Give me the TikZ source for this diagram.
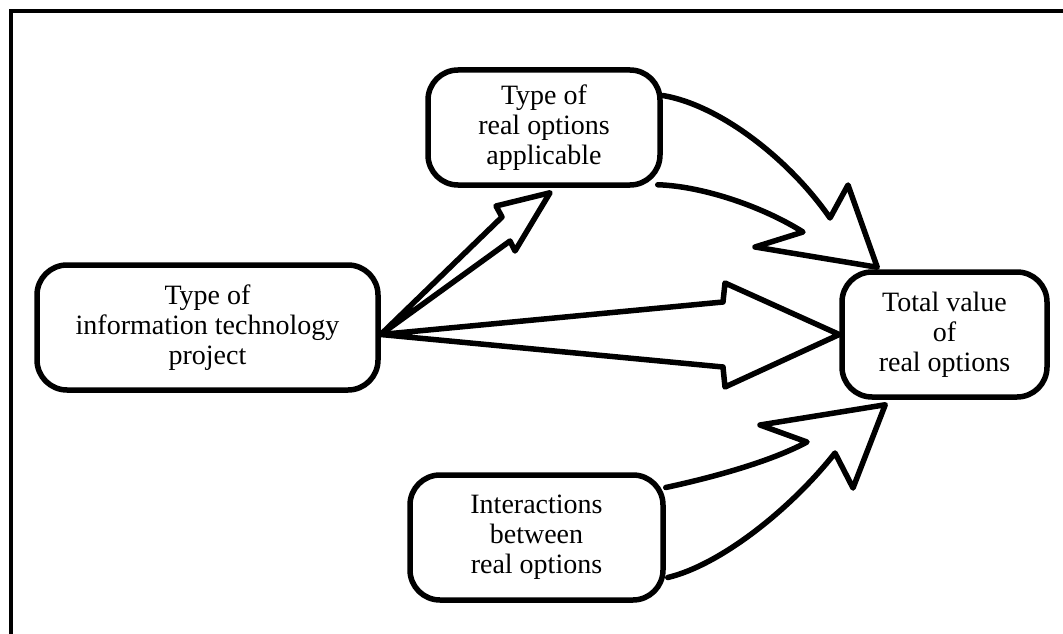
\documentclass[tikz,border=0pt]{standalone}
\usepackage{fontspec}
\setmainfont{Liberation Serif}
\usetikzlibrary{calc}
\begin{document}
\begin{tikzpicture}[x=1pt,y=-1pt,
  box/.style={draw, line width=5.5pt, rounded corners=30pt, fill=white,
    align=center, inner sep=0pt, font=\fontsize{28}{30}\selectfont},
  blockarrow/.style={draw, line width=5.5pt, line join=round, line cap=round}]
\useasboundingbox (0,0) rectangle (1063,634);

% frame
\draw[line width=3.5pt] (11,634) -- (11,11) -- (1063,11);

% nodes
\node[box, minimum width=341pt, minimum height=125pt] (A) at (207.5,327.5)
  {Type of\\information technology\\project};
\node[box, minimum width=232pt, minimum height=115pt] (B) at (544,127.5)
  {Type of\\real options\\applicable};
\node[box, minimum width=253pt, minimum height=125pt] (C) at (536.5,537.5)
  {Interactions\\between\\real options};
\node[box, minimum width=205pt, minimum height=125pt] (D) at (944.5,334.5)
  {Total value\\of\\real options};

% anchor points of the block arrows
\coordinate (apex) at ($(A.east)+(0,7)$);
\coordinate (tipB) at ($(B.south)+(6,5)$);
\coordinate (tipD1) at ($(D.north west)+(38,-2)$);
\coordinate (tipD2) at ($(D.south west)+(46,5)$);
\coordinate (b1) at ($(B.east)+(0,-32)$);
\coordinate (b2) at ($(B.south east)+(-5,-3)$);
\coordinate (c1) at ($(C.east)+(0,-50)$);
\coordinate (c2) at ($(C.east)+(2,40)$);

% A -> B
\draw[blockarrow] (apex) -- (502,217) -- (496,206) -- (tipB)
  -- (515,251) -- (510,241) -- cycle;

% A -> D
\draw[blockarrow] (apex) -- (723,302) -- (725,283) -- (D.west)
  -- (725,387) -- (723,367) -- cycle;

% B -> D
\draw[blockarrow] (b1) .. controls (720,105) and (790,160) .. (830,218)
  -- (848,185) -- (tipD1) -- (755,247) -- (803,232)
  .. controls (760,205) and (700,186) .. (b2);

% C -> D
\draw[blockarrow] (c1) .. controls (710,478) and (770,462) .. (807,442)
  -- (760,425) -- (tipD2) -- (853,488) -- (835,453)
  .. controls (790,510) and (720,565) .. (c2);
\end{tikzpicture}
\end{document}
